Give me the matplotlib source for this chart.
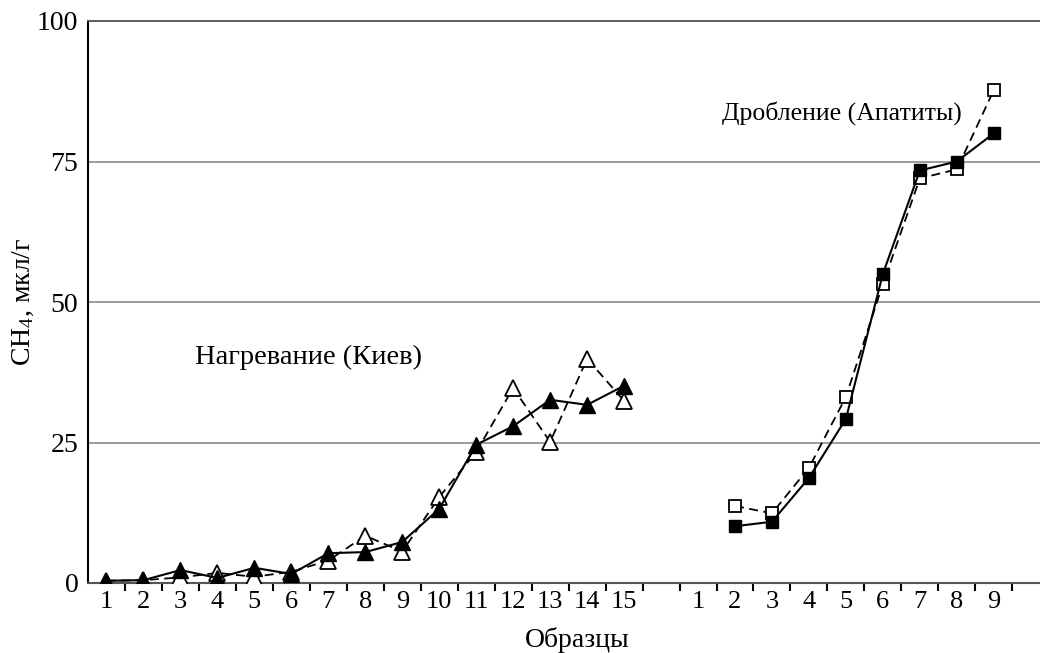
import numpy as np
import matplotlib
matplotlib.use('Agg')
import matplotlib.pyplot as plt

plt.rcParams['font.family'] = ['Liberation Serif', 'DejaVu Serif']
plt.rcParams['mathtext.fontset'] = 'custom'
plt.rcParams['mathtext.rm'] = 'Liberation Serif'
plt.rcParams['mathtext.it'] = 'Liberation Serif:italic'

# Нагревание (Киев): образцы 1-15
obr_kiev = [1, 2, 3, 4, 5, 6, 7, 8, 9, 10, 11, 12, 13, 14, 15]
kiev_1 = [0.4, 0.5, 2.3, 0.9, 2.7, 1.6, 5.3, 5.5, 7.3, 13.2, 24.6, 27.9, 32.6, 31.7, 35.1]
kiev_2 = [0.4, 0.5, 1.0, 1.8, 1.1, 2.0, 4.0, 8.4, 5.6, 15.3, 23.3, 34.7, 25.1, 39.9, 32.4]

# Дробление (Апатиты): образцы 2-9
obr_apat = [2, 3, 4, 5, 6, 7, 8, 9]
apat_1 = [10.1, 10.9, 18.7, 29.2, 55.0, 73.4, 75.0, 80.0]
apat_2 = [13.7, 12.4, 20.5, 33.1, 53.2, 72.0, 73.6, 87.7]

tick_labels = [str(i) for i in range(1, 16)] + [str(i) for i in range(1, 10)]

# сдвиг второй группы по оси x
shift = 16
x_kiev = np.array(obr_kiev)
x_apat = np.array(obr_apat) + shift

fs = 20

fig = plt.figure(figsize=(10.4, 6.53), dpi=100)
ax = fig.add_axes([88 / 1040, 1 - 583 / 653, 1 - 88 / 1040, (583 - 21) / 653])

ax.plot(x_kiev, kiev_2, color='black', lw=1.3, ls=(0, (5, 3)), marker='^',
        ms=11, mfc='white', mec='black', mew=1.3, zorder=3)
ax.plot(x_kiev, kiev_1, color='black', lw=1.5, marker='^',
        ms=11, mfc='black', mec='black', zorder=4)
ax.plot(x_apat, apat_2, color='black', lw=1.3, ls=(0, (5, 3)), marker='s',
        ms=8.5, mfc='white', mec='black', mew=1.3, zorder=3)
ax.plot(x_apat, apat_1, color='black', lw=1.5, marker='s',
        ms=8.5, mfc='black', mec='black', zorder=4)

ax.text(3.4, 40.2, 'Нагревание (Киев)', fontsize=20.5, va='center', ha='left')
ax.text(17.66, 83.6, 'Дробление (Апатиты)', fontsize=18.5, va='center', ha='left')

ax.set_xlim(0.5, 26.25)
ax.set_ylim(0, 100)
ax.set_yticks([0, 25, 50, 75, 100])
ax.yaxis.grid(True, color='#8a8a8a', lw=1.2)
ax.set_axisbelow(True)

pos = list(range(1, 16)) + list(range(17, 26))
ax.set_xticks(pos)
ax.set_xticklabels(tick_labels)
ax.set_xticks(np.arange(1.5, 26, 1.0), minor=True)
ax.tick_params(axis='x', which='major', length=0, pad=6, labelsize=19)
ax.tick_params(axis='x', which='minor', length=6, width=1.5, direction='out')
ax.tick_params(axis='y', length=0, pad=7, labelsize=fs)

for s in ['left', 'bottom', 'top']:
    ax.spines[s].set_linewidth(1.5)
ax.spines['top'].set_color('#555555')
ax.spines['top'].set_linewidth(1.3)
ax.spines['bottom'].set_color('#555555')
ax.spines['right'].set_visible(False)

ax.set_xlabel('Образцы', fontsize=fs)
ax.xaxis.set_label_coords(0.514, -0.078)
ax.set_ylabel('CH$_4$, мкл/г', fontsize=fs)
ax.yaxis.set_label_coords(-0.055, 0.5)

plt.savefig('out.png', dpi=100)
